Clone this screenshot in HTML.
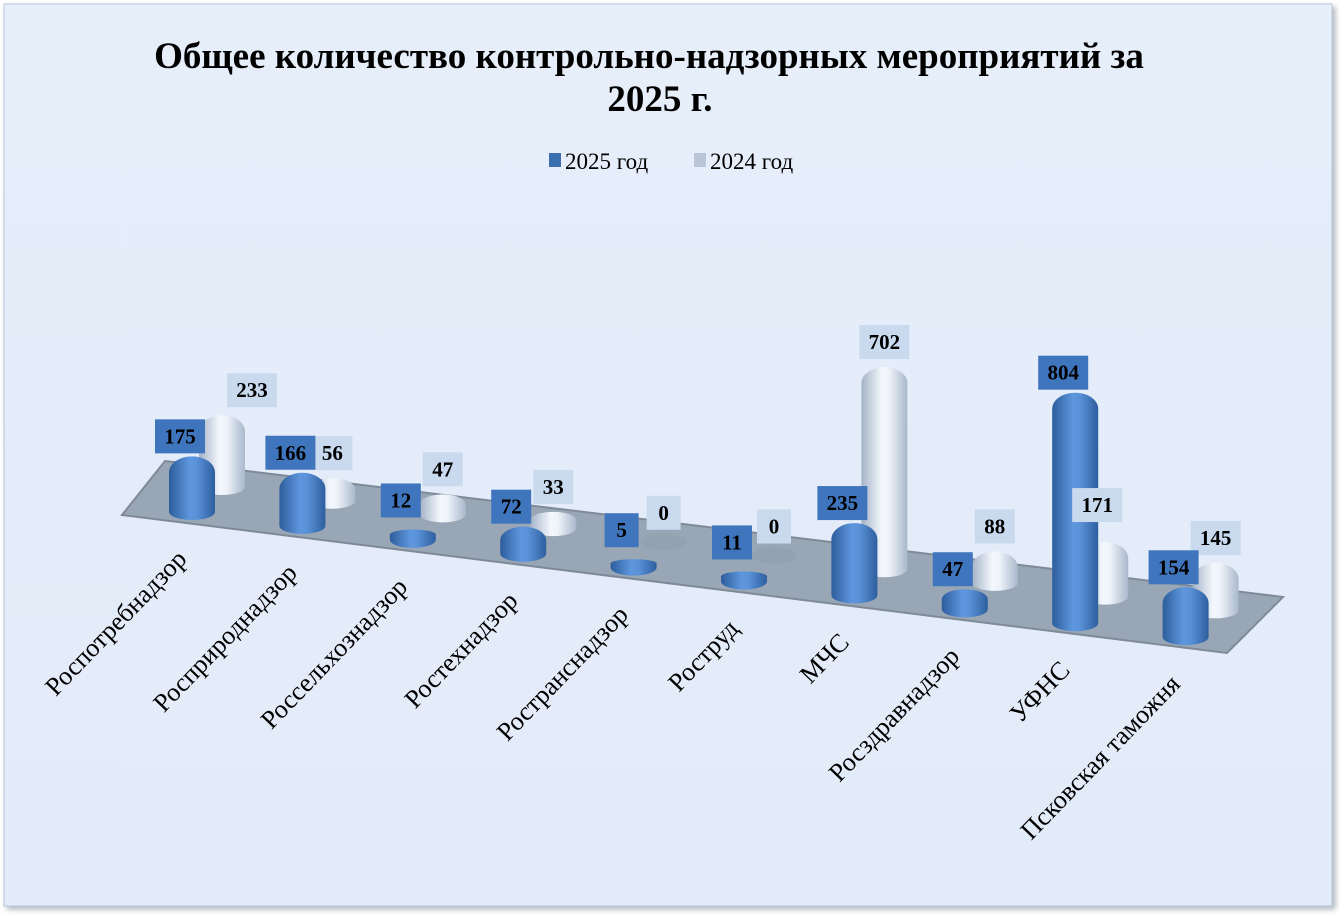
<!DOCTYPE html>
<html><head><meta charset="utf-8"><style>
html,body{margin:0;padding:0;background:#fff;}
svg{display:block;font-family:"Liberation Serif",serif;}
</style></head><body>
<svg width="1340" height="916" viewBox="0 0 1340 916">
<defs>
<linearGradient id="bg" x1="0" y1="0" x2="0" y2="1"><stop offset="0" stop-color="#e6eefa"/><stop offset="1" stop-color="#e2ebf8"/></linearGradient>
<linearGradient id="gb" x1="0" y1="0" x2="1" y2="0"><stop offset="0" stop-color="#2d5d9c"/><stop offset="0.45" stop-color="#5e97de"/><stop offset="0.6" stop-color="#5a92d8"/><stop offset="1" stop-color="#2e5f9f"/></linearGradient>
<linearGradient id="gw" x1="0" y1="0" x2="1" y2="0"><stop offset="0" stop-color="#a4b3c7"/><stop offset="0.45" stop-color="#f4f8fd"/><stop offset="0.6" stop-color="#eef3fa"/><stop offset="1" stop-color="#a9b8cb"/></linearGradient>
<filter id="sh" x="-5%" y="-5%" width="110%" height="110%"><feDropShadow dx="3" dy="3" stdDeviation="3" flood-color="#7a8594" flood-opacity="0.6"/></filter>
</defs>
<rect x="4" y="4" width="1328" height="902" fill="url(#bg)" stroke="#b9c6d8" filter="url(#sh)"/>
<text x="649" y="68" text-anchor="middle" font-size="37" font-weight="bold">Общее количество контрольно-надзорных мероприятий за</text>
<text x="660" y="111" text-anchor="middle" font-size="37" font-weight="bold">2025 г.</text>
<g>
<rect x="549" y="153" width="12" height="14" fill="#3a6fb0"/>
<text x="565" y="169" font-size="23">2025 год</text>
<rect x="694" y="153" width="12" height="14" fill="#b8c6d8"/>
<text x="710" y="169" font-size="23">2024 год</text>
</g>
<polygon points="165,461 1283,597 1227,653 122,515" fill="#99a6b5" stroke="#7e8a98" stroke-width="2"/>
<g id="marks"></g>
<g id="labels"></g>
</svg>
<script>
const categories = ["Роспотребнадзор","Росприроднадзор","Россельхознадзор","Ростехнадзор","Ространснадзор","Роструд","МЧС","Росздравнадзор","УФНС","Псковская таможня"];
const values2025 = [175,166,12,72,5,11,235,47,804,154];
const values2024 = [233,56,47,33,0,0,702,88,171,145];

const NS = "http://www.w3.org/2000/svg";
const g = document.getElementById('marks');
const gl = document.getElementById('labels');
function mk(tag, attrs){const e=document.createElementNS(NS,tag);for(const k in attrs)e.setAttribute(k,attrs[k]);return e;}
function hScale(v){return v===0?0:7+0.278*v;}
function xFront(i){return 192+i*110.4;}
function yFront(i){return 512+i*13.9;}
function xBack(i){return 222+i*110.4;}
function yBack(i){return 487+i*13.7;}
function frontEdge(x){return 515+(x-122)*0.1258;}

function cyl(cx, bottom, v, fill, name){
  const hw=23, ery=8;
  const h=hScale(v);
  const grp=mk('g',{});
  
  
  if(v===0){
    grp.appendChild(mk('ellipse',{cx:cx,cy:bottom,rx:hw,ry:ery,fill:'#8f9bab',opacity:'0.5'}));
    g.appendChild(grp);
    return bottom;
  }
  const top=bottom-h;
  const r=Math.min(16,h/2);
  const d=`M${cx-hw},${bottom} L${cx-hw},${top+r} A${hw},${r} 0 0 1 ${cx+hw},${top+r} L${cx+hw},${bottom} A${hw},${ery} 0 0 1 ${cx-hw},${bottom} Z`;
  grp.appendChild(mk('path',{d:d,fill:fill}));
  g.appendChild(grp);
  return top;
}
function label(cx, y, txt, bg, name){
  const w=txt.length>2?50:(txt.length>1?40:34), hh=34;
  const grp=mk('g',{});
  
  
  grp.appendChild(mk('rect',{x:cx-w/2,y:y-hh,width:w,height:hh,fill:bg}));
  const t=mk('text',{x:cx,y:y-10,'text-anchor':'middle','font-size':'21','font-weight':'bold',fill:'#000'});
  t.textContent=txt;
  grp.appendChild(t);
  gl.appendChild(grp);
}
for(let i=0;i<categories.length;i++){
  const tb=cyl(xBack(i), yBack(i), values2024[i], 'url(#gw)', 'bar-2024-'+i);
  let lx=xBack(i), ly=tb-8;
  if(i===0){lx+=30;}
  if(values2024[i]===0){ly=yBack(i)-12;}
  if(i===8){lx-=8; ly=tb-20;}
  label(lx, ly, String(values2024[i]), '#c9d9ee', 'value-label-2024-'+i);
}
for(let i=0;i<categories.length;i++){
  const tf=cyl(xFront(i), yFront(i), values2025[i], 'url(#gb)', 'bar-2025-'+i);
  let lx=xFront(i)-12, ly=tf-3;
  if(values2025[i]<15){ly=tf-12;}
  label(lx, ly, String(values2025[i]), '#3f75bd', 'value-label-2025-'+i);
}
for(let i=0;i<categories.length;i++){
  const ax=xFront(i)-4, ay=frontEdge(ax)+37;
  const t=mk('text',{x:ax,y:ay,'text-anchor':'end','font-size':'26',transform:`rotate(-46 ${ax} ${ay})`});
  
  
  t.textContent=categories[i];
  gl.appendChild(t);
}
</script>
</body></html>
